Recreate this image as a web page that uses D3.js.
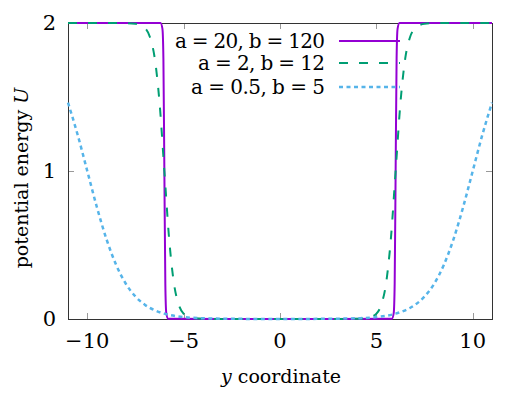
<!DOCTYPE html>
<html>
<head>
<meta charset="utf-8">
<script src="https://cdn.jsdelivr.net/npm/d3@7"></script>
<style>
  body { margin: 0; background: #fff; }
</style>
</head>
<body>
<script>
var width = 507,
    height = 393,
    margin = { top: 23, right: 15, bottom: 74, left: 68 },
    font = "'DejaVu Serif', serif";

// series
var xSteep = [-11, -6.2, -6.1, -6.05, -6, -5.95, -5.9, -5.8, 0, 5.8, 5.9, 5.95, 6, 6.05, 6.1, 6.2, 11];
var uSteep = [2, 2, 1.96, 1.76, 1, 0.24, 0.04, 0.001, 0, 0.001, 0.04, 0.24, 1, 1.76, 1.96, 2, 2];

var xMid = [-11, -8, -7.5, -7, -6.75, -6.5, -6.25, -6, -5.75, -5.5, -5.25, -5, -4.5, -4, 0,
            4, 4.5, 5, 5.25, 5.5, 5.75, 6, 6.25, 6.5, 6.75, 7, 7.5, 8, 11];
var uMid = [2, 1.999, 1.995, 1.964, 1.905, 1.762, 1.462, 1, 0.538, 0.238, 0.095, 0.036, 0.005, 0.001, 0,
            0.001, 0.005, 0.036, 0.095, 0.238, 0.538, 1, 1.462, 1.762, 1.905, 1.964, 1.995, 1.999, 2];

var xSoft = [-11, -10.5, -10, -9.5, -9, -8.5, -8, -7.5, -7, -6.5, -6, -5, -4, -3, -2, 0,
             2, 3, 4, 5, 6, 6.5, 7, 7.5, 8, 8.5, 9, 9.5, 10, 10.5, 11];
var uSoft = [1.462, 1.245, 1, 0.755, 0.538, 0.365, 0.238, 0.152, 0.095, 0.059, 0.036, 0.013, 0.005, 0.002, 0.001, 0,
             0.001, 0.002, 0.005, 0.013, 0.036, 0.059, 0.095, 0.152, 0.238, 0.365, 0.538, 0.755, 1, 1.245, 1.462];

var seriesNames = ["a = 20, b = 120", "a = 2, b = 12", "a = 0.5, b = 5"];
var xTicks = [-10, -5, 0, 5, 10];
var yTicks = [0, 1, 2];

var series = [
  { name: seriesNames[0], x: xSteep, u: uSteep, color: "#9400d3", dash: null, w: 2, tl: 150 },
  { name: seriesNames[1], x: xMid, u: uMid, color: "#009e73", dash: "9,11", w: 2, tl: 127 },
  { name: seriesNames[2], x: xSoft, u: uSoft, color: "#56b4e9", dash: "4,3.5", w: 2.5, tl: 134 }
];

var svg = d3.select("body").append("svg")
    .attr("width", width)
    .attr("height", height)
    .attr("font-family", font);

var x = d3.scaleLinear().domain([-11, 11]).range([margin.left, width - margin.right]);
var y = d3.scaleLinear().domain([0, 2]).range([height - margin.bottom, margin.top]);

var x0 = x.range()[0], x1 = x.range()[1], y0 = y.range()[0], y1 = y.range()[1];

// ticks (inward, mirrored)
var ticks = svg.append("g").attr("stroke", "#999").attr("stroke-width", 1);
xTicks.forEach(function(t) {
  var px = Math.round(x(t)) + 0.5;
  ticks.append("line").attr("x1", px).attr("x2", px).attr("y1", y0).attr("y2", y0 - 6);
  ticks.append("line").attr("x1", px).attr("x2", px).attr("y1", y1).attr("y2", y1 + 6);
});
yTicks.forEach(function(t) {
  var py = Math.round(y(t)) + 0.5;
  ticks.append("line").attr("x1", x0).attr("x2", x0 + 6).attr("y1", py).attr("y2", py);
  ticks.append("line").attr("x1", x1).attr("x2", x1 - 6).attr("y1", py).attr("y2", py);
});

// frame
svg.append("rect")
    .attr("x", Math.round(x0) + 0.5)
    .attr("y", Math.round(y1) + 0.5)
    .attr("width", Math.round(x1) - Math.round(x0))
    .attr("height", Math.round(y0) - Math.round(y1))
    .attr("fill", "none")
    .attr("stroke", "#333")
    .attr("stroke-width", 1);

// tick labels
svg.selectAll(".xl").data(xTicks).enter().append("text")
    .attr("x", function(d) { return x(d); })
    .attr("y", 348)
    .attr("text-anchor", "middle")
    .attr("font-size", 21)
    .text(function(d) { return d < 0 ? "\u2212" + Math.abs(d) : d; });

svg.selectAll(".yl").data(yTicks).enter().append("text")
    .attr("x", 56)
    .attr("y", function(d) { return y(d) + 7; })
    .attr("text-anchor", "end")
    .attr("font-size", 21)
    .text(function(d) { return d; });

// axis titles
var xt = svg.append("text")
    .attr("x", 281)
    .attr("y", 383)
    .attr("text-anchor", "middle")
    .attr("font-size", 19);
xt.append("tspan").attr("font-style", "italic").text("y");
xt.append("tspan").text(" coordinate");

var yt = svg.append("text")
    .attr("transform", "translate(28,178) rotate(-90)")
    .attr("text-anchor", "middle")
    .attr("font-size", 19);
yt.append("tspan").text("potential energy ");
yt.append("tspan").attr("font-style", "italic").text("U");

// curves
var line = d3.line()
    .x(function(d) { return x(d[0]); })
    .y(function(d) { return y(d[1]); })
    .curve(d3.curveMonotoneX);

series.forEach(function(s) {
  svg.append("path")
      .datum(d3.zip(s.x, s.u))
      .attr("d", line)
      .attr("fill", "none")
      .attr("stroke", s.color)
      .attr("stroke-width", s.w)
      .attr("stroke-dasharray", s.dash);
});

// legend
var legendY = [41, 63, 87];
series.forEach(function(s, i) {
  svg.append("text")
      .attr("x", 325)
      .attr("y", legendY[i] + 7)
      .attr("text-anchor", "end")
      .attr("textLength", s.tl)
      .attr("lengthAdjust", "spacing")
      .attr("font-size", 20)
      .text(s.name);
  svg.append("line")
      .attr("x1", 339).attr("x2", 400)
      .attr("y1", legendY[i]).attr("y2", legendY[i])
      .attr("stroke", s.color)
      .attr("stroke-width", s.w)
      .attr("stroke-dasharray", s.dash);
});
</script>
</body>
</html>
